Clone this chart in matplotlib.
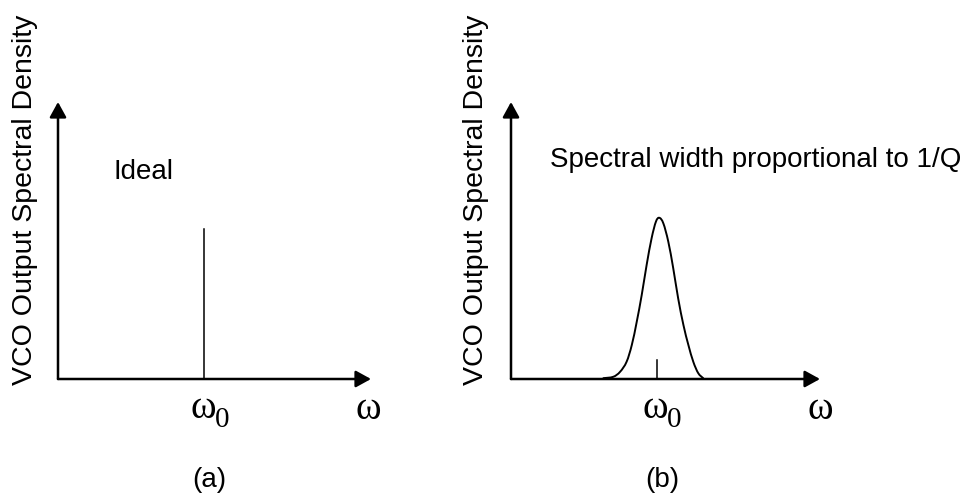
import matplotlib
matplotlib.use("Agg")
import matplotlib.pyplot as plt
from matplotlib.path import Path
from matplotlib.patches import PathPatch

W, H = 977, 496

# ---- data (axis units: 0..10 along each arrow) ----
ideal_freq = 4.66          # omega_0 position, panel (a)
ideal_height = 5.42        # spike height, panel (a)

real_center = 4.74         # omega_0 tick position, panel (b)
real_tick_height = 0.69
real_freq = [2.99, 3.31, 3.53, 3.74, 3.91, 4.07, 4.23, 4.39, 4.55, 4.69,
             4.80, 4.93, 5.09, 5.25, 5.41, 5.58, 5.74, 5.90, 6.06, 6.22]
real_density = [0.03, 0.08, 0.26, 0.62, 1.23, 2.07, 3.03, 4.12, 5.08, 5.68,
                 5.82, 5.62, 4.96, 4.00, 2.91, 1.95, 1.23, 0.62, 0.21, 0.03]

ylabel = "VCO Output Spectral Density"
note_a = "Ideal"
note_b = "Spectral width proportional to 1/Q"
panel_labels = ["(a)", "(b)"]

SANS = "Liberation Sans"
SERIF = "Liberation Serif"

fig = plt.figure(figsize=(W / 100, H / 100), dpi=100)
fig.patch.set_facecolor("white")


def px_axes(left, right, top, bottom):
    return fig.add_axes([left / W, 1 - bottom / H, (right - left) / W, (bottom - top) / H])


def fx(x):
    return x / W


def fy(y):
    return 1 - y / H


def draw_axes(ax):
    ax.set_xlim(0, 10)
    ax.set_ylim(0, 10)
    ax.axis("off")
    style = "-|>,head_length=0.4,head_width=0.22"
    for tip in ((10, 0), (0, 10)):
        ax.annotate("", xy=tip, xytext=(0, 0),
                    arrowprops=dict(arrowstyle=style, lw=1.8, color="black",
                                    mutation_scale=23, shrinkA=0, shrinkB=0),
                    annotation_clip=False)


def smooth_path(xs, ys):
    # Catmull-Rom through the read points, drawn as cubic Bezier segments
    pts = list(zip(xs, ys))
    verts = [pts[0]]
    codes = [Path.MOVETO]
    n = len(pts)
    for i in range(n - 1):
        p0 = pts[i - 1] if i > 0 else pts[i]
        p1 = pts[i]
        p2 = pts[i + 1]
        p3 = pts[i + 2] if i + 2 < n else pts[i + 1]
        c1 = (p1[0] + (p2[0] - p0[0]) / 6, p1[1] + (p2[1] - p0[1]) / 6)
        c2 = (p2[0] - (p3[0] - p1[0]) / 6, p2[1] - (p3[1] - p1[1]) / 6)
        verts += [c1, c2, p2]
        codes += [Path.CURVE4] * 3
    return Path(verts, codes)


# Panel (a)
ax_a = px_axes(58, 371, 102, 379)
draw_axes(ax_a)
ax_a.plot([ideal_freq, ideal_freq], [0, ideal_height], color="black", lw=1.1, clip_on=False)

# Panel (b)
ax_b = px_axes(511, 820, 102, 379)
draw_axes(ax_b)
ax_b.add_patch(PathPatch(smooth_path(real_freq, real_density), facecolor="none",
                         edgecolor="black", lw=1.4, clip_on=False, capstyle="round",
                         joinstyle="round"))
ax_b.plot([real_center, real_center], [0, real_tick_height], color="black", lw=1.1, clip_on=False)

# Y labels
for xc in (25, 476):
    fig.text(fx(xc), fy(200), ylabel, rotation=90, ha="center", va="center",
             fontsize=20.5, family=SANS)

# Notes
fig.text(fx(113), fy(179), note_a, ha="left", va="baseline", fontsize=20, family=SANS)
fig.text(fx(550), fy(167), note_b, ha="left", va="baseline", fontsize=20, family=SANS)

# omega labels
for zx in (215, 667):
    fig.text(fx(zx + 1), fy(418), "\u03c9", ha="right", va="baseline", fontsize=28, family=SERIF)
    fig.text(fx(zx), fy(427), "0", ha="left", va="baseline", fontsize=21, family=SERIF)
for xc in (368, 820):
    fig.text(fx(xc), fy(419), "\u03c9", ha="center", va="baseline", fontsize=28, family=SERIF)

# panel labels
fig.text(fx(209), fy(487), panel_labels[0], ha="center", va="baseline", fontsize=20, family=SANS)
fig.text(fx(662), fy(487), panel_labels[1], ha="center", va="baseline", fontsize=20, family=SANS)

fig.savefig("out.png", dpi=100, facecolor="white")
